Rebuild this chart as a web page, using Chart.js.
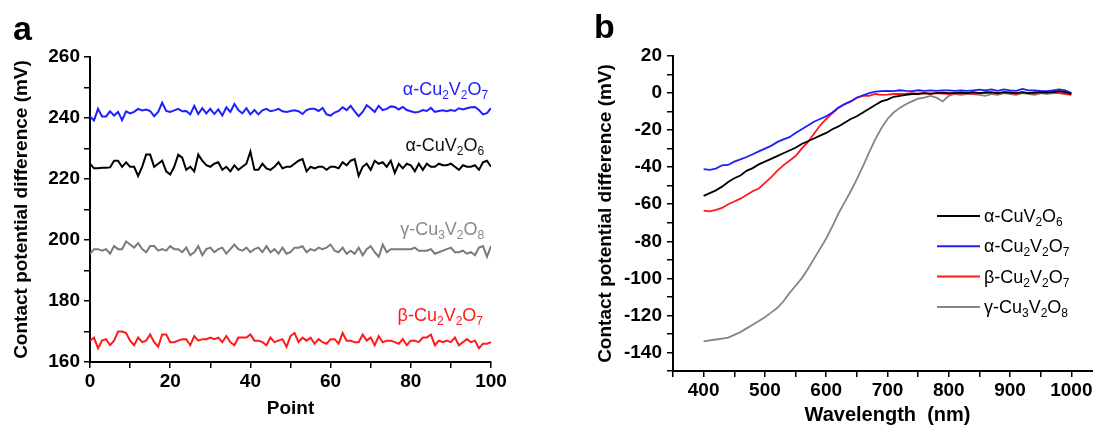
<!DOCTYPE html>
<html>
<head>
<meta charset="utf-8">
<script src="https://cdn.jsdelivr.net/npm/chart.js@4.4.0/dist/chart.umd.min.js"></script>
<style>
  html, body { margin: 0; padding: 0; background: #fff; overflow: hidden; width: 1093px; height: 427px; }
  #panelA { position: absolute; left: 0; top: 0; }
  #panelB { position: absolute; left: 546px; top: 0; }
</style>
</head>
<body>
<canvas id="panelA" width="546" height="427"></canvas>
<canvas id="panelB" width="600" height="427"></canvas>
<script>
// --- DATA: panel a (CPD vs measurement point) ---
const pointCount = 101;
const points = Array.from({ length: pointCount }, (_, i) => i);

const blueA = [240.5,239.2,243,240.5,240.5,242.2,240.8,242,239.3,242.2,
  241.5,242,243,242.5,242.8,242.3,240.6,242,245,242.3,
  242,242.5,243,242.2,242.3,241.2,244,241.3,243.2,241.5,
  243,241.3,242.8,240.8,243.5,242,244.6,242.6,241.5,243.2,
  241.2,242.6,241.2,242.5,243,242.2,242.5,243,242.2,242,
  242.3,242.5,242.2,241.3,242.6,243,243,242.3,243.3,241.2,
  240.8,241.8,242.3,243.5,242.6,244,242.2,240.6,242,244.2,
  243.2,242,244,242.6,243,243.8,243.6,242.8,243.6,242.6,
  242.2,241.8,242,242.6,242.3,243.3,242,242.3,242.5,242.2,
  242.6,242.3,243.2,242.8,243.2,243.5,243.6,242.6,241.2,241.6,243.2];

const blackA = [225,223.5,223.5,223.7,223.7,223.8,226,226,224,225.5,
  224,224,221,224,228,228,224,225,226,222.5,
  221.5,224,228,227,223,224,222.5,228,226,224.5,
  224,225,225.5,223,224,222.5,224.5,223,224,225,
  229,223,223,225,223.5,223,224,225.5,223.5,224,
  224,225,226,226.5,222.5,224,223.5,224,224,223,
  224,224,223.5,225.5,224.5,226,226.5,221,224,225,
  223,226,225,225.5,224,226,222,225,223.5,225,
  224.5,222.5,225,223,225,224,224,225,224.5,224.5,
  225,224,223,224.5,224,224,224.5,223,225.5,226,224];

const grayA = [195.5,197,197,196.5,197,195.5,198,197,197,199.5,
  198.5,197.5,199,197,196,198,198,196.5,197,196.5,
  198,197,197,196,197.5,195,196,198,195,197,
  197.5,196,197,197.5,195.5,197,198.5,197,196.5,197.5,
  196,197,197.5,196,198,196,197,195.5,197.5,195.5,
  196,197.5,197.5,198,196,197,196.5,197.5,197,197.5,
  198.5,196.5,196,197.5,195.5,196.5,195.5,197.5,195,197,
  198,196,194.5,198.5,196,197,197,197,197,197,
  197,197.5,196.5,196.5,196.5,197,195.5,196,196.5,197,
  197.5,196,196,196.5,195.5,196,195,197.5,198,194.5,198];

const redA = [167,168,164.5,167,167.5,165.5,167,170,170,169.5,
  167,165.5,168,166.5,167,169,166.5,165,169,169,
  166.5,166.5,167,167.5,167.5,165.5,168.5,167,167.5,167.5,
  168,167.5,168,166.5,168.5,166.5,165.5,168,168,168,
  169,167,167,166.5,165.5,168,166.5,167,167.5,165,
  168.5,169.5,166.5,168,167,168,166,167.5,166.5,166,
  167.5,167.5,166,169.5,167,167,166.5,166.5,169,167,
  168,165.5,168.5,166.5,167,167,166.5,166,167.5,165.5,
  167,167,166.5,168,168,169,165.5,167,166.5,167,
  166.5,168,165.5,166.5,167.5,166.5,167,164.5,166,166,166.5];

// --- DATA: panel b (CPD vs wavelength) ---
const wavelengths = [400,410,420,430,440,450,460,470,480,490,
  500,510,520,530,540,550,560,570,580,590,
  600,610,620,630,640,650,660,670,680,690,
  700,710,720,730,740,750,760,770,780,790,
  800,810,820,830,840,850,860,870,880,890,
  900,910,920,930,940,950,960,970,980,990,1000];

const blackB = [-55.5,-54,-52.5,-50.5,-48,-46,-44.5,-42,-40.5,-38.5,
  -37,-35.5,-34,-32.5,-31,-29.5,-27.5,-26,-24.5,-23,
  -21.5,-19.5,-18,-16,-14,-12.5,-10.5,-8.5,-6.5,-4.5,
  -3.5,-2,-1.5,-1,-0.5,-0.5,0,-0.3,0,0.2,
  0,0,0.3,0,0.5,0,0.3,0.5,0,0.5,
  0.3,0,0.5,0,0.3,0.5,0.3,0.5,1,0.5,-0.5];

const blueB = [-41,-41.5,-40.8,-39,-38.8,-37,-35.8,-34.5,-33,-31.5,
  -30,-28.5,-26.5,-25,-23.8,-21.5,-19.5,-17.5,-15.5,-14,
  -12.5,-10.5,-7.8,-6,-4.5,-2.5,-1.2,0,0.8,1,
  1.2,1,1.5,1.2,1,1.5,1.2,1.5,1.2,1.5,
  1.5,1.2,1.5,1.2,1.5,1.8,1.5,2,1.2,2,
  1.5,1.2,2.2,1.5,1.5,1.2,1,1.5,2,1.5,0];

const redB = [-63.5,-63.8,-63,-62,-60,-58.5,-57,-55,-53,-51.5,
  -48.5,-45.5,-42,-39,-36.5,-34,-30,-26.5,-22,-17.5,
  -14,-11,-8,-6,-4.5,-2.5,-1.5,-1.5,-0.5,-1,
  -0.8,-0.5,-0.5,-0.3,0,-0.3,0,-0.5,0,-0.3,
  -0.5,0,-0.3,0,-0.5,0,0.3,0,-0.3,0.3,
  0,-0.5,0.3,0,-0.3,0,0.5,0.3,0,-0.5,-1];

const grayB = [-134,-133.5,-133,-132.5,-132,-130.5,-129,-127,-125,-123,
  -121,-118.5,-116,-112.5,-108,-104,-100,-95,-89.5,-84,
  -78.5,-72,-65,-59,-53,-46.5,-39.5,-32,-25,-19,
  -14,-10.5,-8,-6,-4.5,-3,-2.5,-1.5,-2.5,-4.5,
  -1.5,-0.5,-1,-0.5,-0.5,-1,-1.5,-0.5,-1,0,
  -0.5,-1,0,-0.5,-1,0,-0.5,0,0,0.5,-0.5];

// series names, "_n" = subscript digit
const nameCuV2O6 = 'α-CuV_2O_6';
const nameAlpha227 = 'α-Cu_2V_2O_7';
const nameBeta227 = 'β-Cu_2V_2O_7';
const nameGamma328 = 'γ-Cu_3V_2O_8';

const FONT = '"Liberation Sans", Arial, Helvetica, sans-serif';

function pairs(xs, ys) {
  return xs.map((x, i) => ({ x: x, y: ys[i] }));
}

// split "α-Cu_2V_2O_7" into normal / subscript runs
function formulaParts(label) {
  const parts = [];
  let i = 0;
  while (i < label.length) {
    if (label[i] === '_') {
      parts.push({ t: label[i + 1], sub: true });
      i += 2;
    } else {
      let j = i;
      while (j < label.length && label[j] !== '_') j++;
      parts.push({ t: label.slice(i, j), sub: false });
      i = j;
    }
  }
  return parts;
}

function drawFormula(ctx, label, x, baseline, color, alignRight) {
  const parts = formulaParts(label);
  const big = '18px ' + FONT, small = '12px ' + FONT;
  let width = 0;
  parts.forEach(p => { ctx.font = p.sub ? small : big; width += ctx.measureText(p.t).width; });
  let cx = alignRight ? x - width : x;
  ctx.save();
  ctx.fillStyle = color;
  ctx.textAlign = 'left';
  ctx.textBaseline = 'alphabetic';
  parts.forEach(p => {
    ctx.font = p.sub ? small : big;
    ctx.fillText(p.t, cx, p.sub ? baseline + 4 : baseline);
    cx += ctx.measureText(p.t).width;
  });
  ctx.restore();
}

function axisStyle(min, max, step, labelEvery, titleText, titleFont, titlePad, fitSize, horizontal, tickPad) {
  return {
    type: 'linear',
    min: min,
    max: max,
    ticks: {
      stepSize: step,
      autoSkip: false,
      maxRotation: 0,
      padding: tickPad,
      color: '#000',
      font: { family: FONT, size: 19, weight: 'bold' },
      callback: v => (Math.round(v) % labelEvery === 0 ? v : '')
    },
    grid: { drawOnChartArea: false, drawTicks: true, tickLength: 6, color: '#000', lineWidth: 1.5 },
    border: { display: true, color: '#000', width: 2 },
    title: {
      display: true,
      text: titleText,
      color: '#000',
      font: { family: FONT, size: titleFont, weight: 'bold' },
      padding: titlePad
    },
    afterFit: scale => {
      if (horizontal) scale.height = fitSize; else scale.width = fitSize;
    }
  };
}

// panel letter + inline labels for panel a
const panelAText = {
  id: 'panelAText',
  afterDraw(chart) {
    const { ctx, scales } = chart;
    ctx.save();
    ctx.fillStyle = '#000';
    ctx.font = 'bold 34px ' + FONT;
    ctx.textBaseline = 'alphabetic';
    ctx.fillText('a', 13, 40);
    ctx.restore();
    const tags = [
      { name: nameAlpha227, x: 99.3, y: 249.5, color: '#1f1fff' },
      { name: nameCuV2O6, x: 98.3, y: 231, color: '#111' },
      { name: nameGamma328, x: 98.3, y: 203.5, color: '#8a8a8a' },
      { name: nameBeta227, x: 98, y: 175.5, color: '#ff1a1a' }
    ];
    tags.forEach(t => {
      drawFormula(ctx, t.name, scales.x.getPixelForValue(t.x), scales.y.getPixelForValue(t.y) + 6, t.color, true);
    });
  }
};

// panel letter + legend for panel b
const panelBText = {
  id: 'panelBText',
  afterDraw(chart) {
    const { ctx, chartArea } = chart;
    ctx.save();
    ctx.fillStyle = '#000';
    ctx.font = 'bold 34px ' + FONT;
    ctx.textBaseline = 'alphabetic';
    ctx.fillText('b', 48, 38);
    ctx.restore();
    const x0 = chartArea.left + 264;
    chart.data.datasets.forEach((ds, i) => {
      const y = 216 + i * 30.3;
      ctx.save();
      ctx.strokeStyle = ds.borderColor;
      ctx.lineWidth = 2;
      ctx.beginPath();
      ctx.moveTo(x0, y);
      ctx.lineTo(x0 + 43, y);
      ctx.stroke();
      ctx.restore();
      drawFormula(ctx, ds.label, x0 + 47, y + 6, '#000', false);
    });
  }
};

document.addEventListener('DOMContentLoaded', function () {
  Chart.defaults.font.family = FONT;

  // --- PANEL A ---
  new Chart(document.getElementById('panelA'), {
    type: 'line',
    data: {
      datasets: [
        { label: nameAlpha227, data: pairs(points, blueA), borderColor: '#1f1fff' },
        { label: nameCuV2O6, data: pairs(points, blackA), borderColor: '#000' },
        { label: nameGamma328, data: pairs(points, grayA), borderColor: '#7a7a7a' },
        { label: nameBeta227, data: pairs(points, redA), borderColor: '#ff1a1a' }
      ]
    },
    options: {
      responsive: false,
      animation: false,
      layout: { padding: { top: 57, right: 55, left: 0, bottom: 0 } },
      elements: { point: { radius: 0 }, line: { borderWidth: 2, tension: 0 } },
      plugins: { legend: { display: false }, tooltip: { enabled: false } },
      scales: {
        x: axisStyle(0, 100, 10, 20, 'Point', 19, { top: 0, bottom: 7 }, 65, true, 2),
        y: axisStyle(160, 260, 10, 20, 'Contact potential difference (mV)', 19, { top: 10, bottom: 0 }, 90, false, 4)
      }
    },
    plugins: [panelAText]
  });

  // --- PANEL B ---
  new Chart(document.getElementById('panelB'), {
    type: 'line',
    data: {
      datasets: [
        { label: nameCuV2O6, data: pairs(wavelengths, blackB), borderColor: '#000' },
        { label: nameAlpha227, data: pairs(wavelengths, blueB), borderColor: '#1f1fff' },
        { label: nameBeta227, data: pairs(wavelengths, redB), borderColor: '#ff1a1a' },
        { label: nameGamma328, data: pairs(wavelengths, grayB), borderColor: '#858585' }
      ]
    },
    options: {
      responsive: false,
      animation: false,
      layout: { padding: { top: 56, right: 44, left: 0, bottom: 0 } },
      elements: { point: { radius: 0 }, line: { borderWidth: 1.8, tension: 0 } },
      plugins: { legend: { display: false }, tooltip: { enabled: false } },
      scales: {
        x: axisStyle(350, 1050, 50, 100, 'Wavelength  (nm)', 20, { top: 0, bottom: 0 }, 56, true, 2),
        y: axisStyle(-150, 20, 10, 20, 'Contact potential difference (mV)', 19, { top: 48, bottom: 0 }, 127, false, 5)
      }
    },
    plugins: [panelBText]
  });
});
</script>
</body>
</html>
